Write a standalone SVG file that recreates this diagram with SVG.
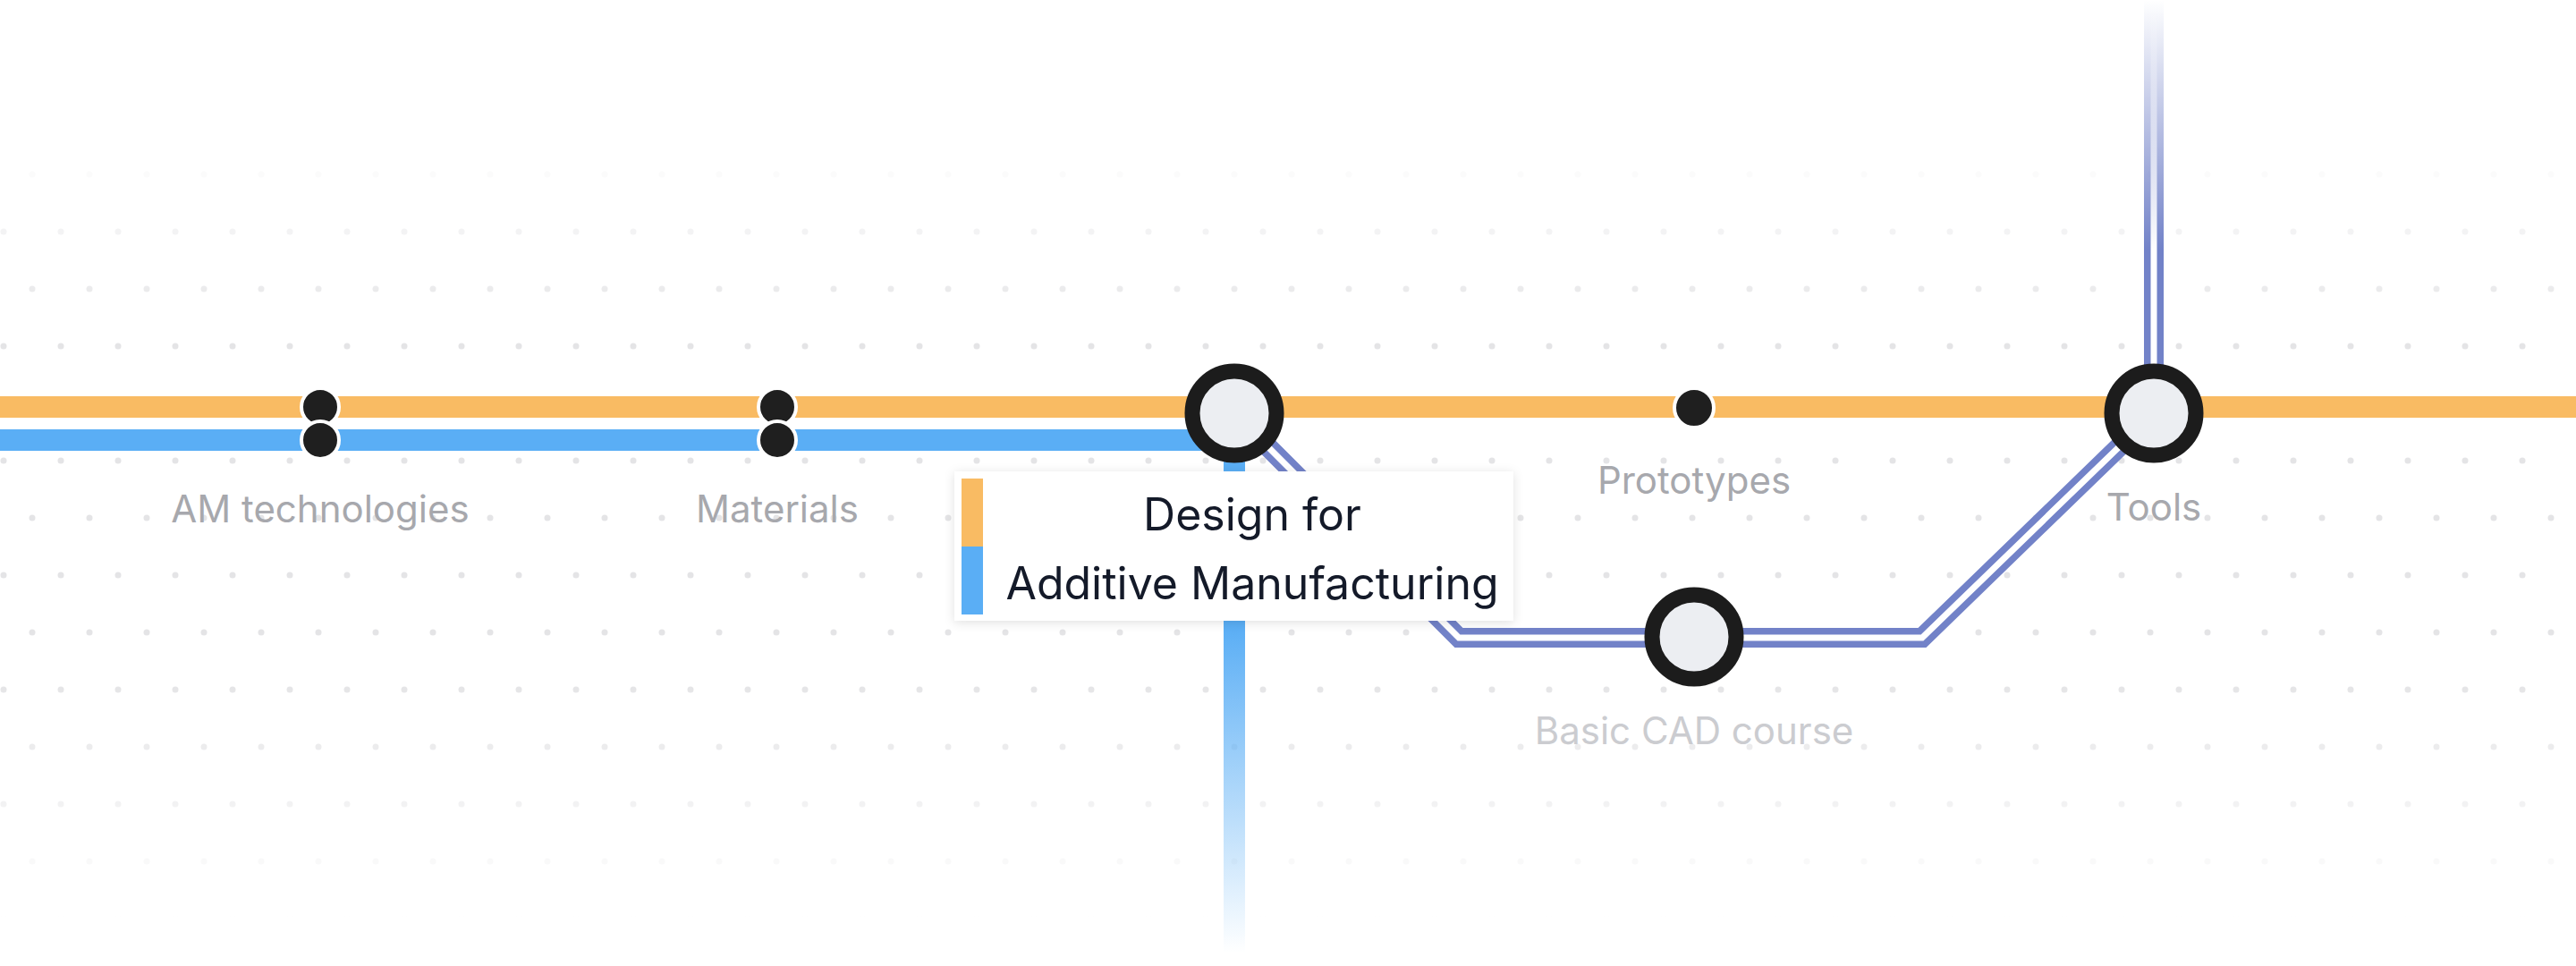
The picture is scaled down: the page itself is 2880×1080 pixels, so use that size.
<svg xmlns="http://www.w3.org/2000/svg" width="2880" height="1080" viewBox="0 0 2880 1080">
<defs>
<style>
.lbl{font-family:"Inter","Liberation Sans",sans-serif;font-size:42px;fill:#a7a8ad;text-anchor:middle}
.lbl2{font-family:"Inter","Liberation Sans",sans-serif;font-size:42px;fill:#cbccd0;text-anchor:middle}
.big{font-family:"Inter","Liberation Sans",sans-serif;font-size:50px;fill:#141a29;text-anchor:middle}
.dot{fill:#1f1f1f;stroke:#fff;stroke-width:4}
.node{fill:#eceef2;stroke:#1c1c1c;stroke-width:17}
.pl{fill:none;stroke:#7282c8;stroke-width:22;stroke-linejoin:miter}
.pw{fill:none;stroke:#fff;stroke-width:7}
</style>
<pattern id="grid" patternUnits="userSpaceOnUse" x="4" y="3" width="64" height="128">
<circle cx="0" cy="0" r="3.5" fill="#e4e4e6"/><circle cx="64" cy="0" r="3.5" fill="#e4e4e6"/>
<circle cx="0" cy="128" r="3.5" fill="#e4e4e6"/><circle cx="64" cy="128" r="3.5" fill="#e4e4e6"/>
<circle cx="32" cy="64" r="3.5" fill="#e4e4e6"/>
</pattern>
<linearGradient id="fadeV" x1="0" y1="0" x2="0" y2="1080" gradientUnits="userSpaceOnUse">
<stop offset="0.15" stop-color="#fff" stop-opacity="0"/><stop offset="0.35" stop-color="#fff"/><stop offset="0.7" stop-color="#fff"/><stop offset="0.95" stop-color="#fff" stop-opacity="0"/>
</linearGradient>
<mask id="gm"><rect width="2880" height="1080" fill="url(#fadeV)"/></mask>
<linearGradient id="blueFade" x1="0" y1="700" x2="0" y2="1065" gradientUnits="userSpaceOnUse">
<stop offset="0" stop-color="#5aaef5"/><stop offset="1" stop-color="#5aaef5" stop-opacity="0"/>
</linearGradient>
<linearGradient id="purFade" x1="0" y1="400" x2="0" y2="0" gradientUnits="userSpaceOnUse">
<stop offset="0.3" stop-color="#7282c8"/><stop offset="1" stop-color="#7282c8" stop-opacity="0"/>
</linearGradient>
<linearGradient id="whFade" x1="0" y1="400" x2="0" y2="0" gradientUnits="userSpaceOnUse">
<stop offset="0.3" stop-color="#fff"/><stop offset="1" stop-color="#fff" stop-opacity="0"/>
</linearGradient>
<filter id="sh" x="-10%" y="-20%" width="120%" height="140%"><feDropShadow dx="0" dy="2" stdDeviation="6" flood-color="#000" flood-opacity="0.12"/></filter>
</defs>
<rect width="2880" height="1080" fill="#fff"/>
<rect width="2880" height="1080" fill="url(#grid)" mask="url(#gm)"/>
<g id="connectors">
<line x1="0" y1="455" x2="2880" y2="455" stroke="#f9bb63" stroke-width="24"/>
<polyline points="0,492 1368,492" fill="none" stroke="#5aaef5" stroke-width="24"/>
<line x1="1380" y1="480" x2="1380" y2="1065" stroke="url(#blueFade)" stroke-width="24"/>
<path class="pl" d="M1380,462 L1631,713 L2149,713 L2408,462"/>
<path class="pw" d="M1380,462 L1631,713 L2149,713 L2408,462"/>
<line x1="2408" y1="0" x2="2408" y2="462" stroke="url(#purFade)" stroke-width="22"/>
<line x1="2408" y1="0" x2="2408" y2="462" stroke="url(#whFade)" stroke-width="7"/>
</g>
<g id="am-technologies"><circle class="dot" cx="358" cy="455" r="21"/><circle class="dot" cx="358" cy="492" r="21"/><text class="lbl" x="358" y="584">AM technologies</text></g>
<g id="materials"><circle class="dot" cx="869" cy="455" r="21"/><circle class="dot" cx="869" cy="492" r="21"/><text class="lbl" x="869" y="584">Materials</text></g>
<g id="prototypes"><circle class="dot" cx="1894" cy="456" r="22"/><text class="lbl" x="1894" y="552">Prototypes</text></g>
<g id="tools"><circle class="node" cx="2408" cy="462" r="47"/><text class="lbl" x="2408" y="582">Tools</text></g>
<g id="basic-cad"><circle class="node" cx="1894" cy="712" r="47"/><text class="lbl2" x="1894" y="832">Basic CAD course</text></g>
<g id="dfam">
<circle class="node" cx="1380" cy="462" r="47"/>
<rect x="1067" y="527" width="625" height="167" fill="#fff" filter="url(#sh)"/>
<rect x="1075" y="535" width="24" height="76" fill="#f9bb63"/>
<rect x="1075" y="611" width="24" height="76" fill="#5aaef5"/>
<text class="big" x="1400" y="593">Design for</text>
<text class="big" x="1400" y="670">Additive Manufacturing</text>
</g>
</svg>
